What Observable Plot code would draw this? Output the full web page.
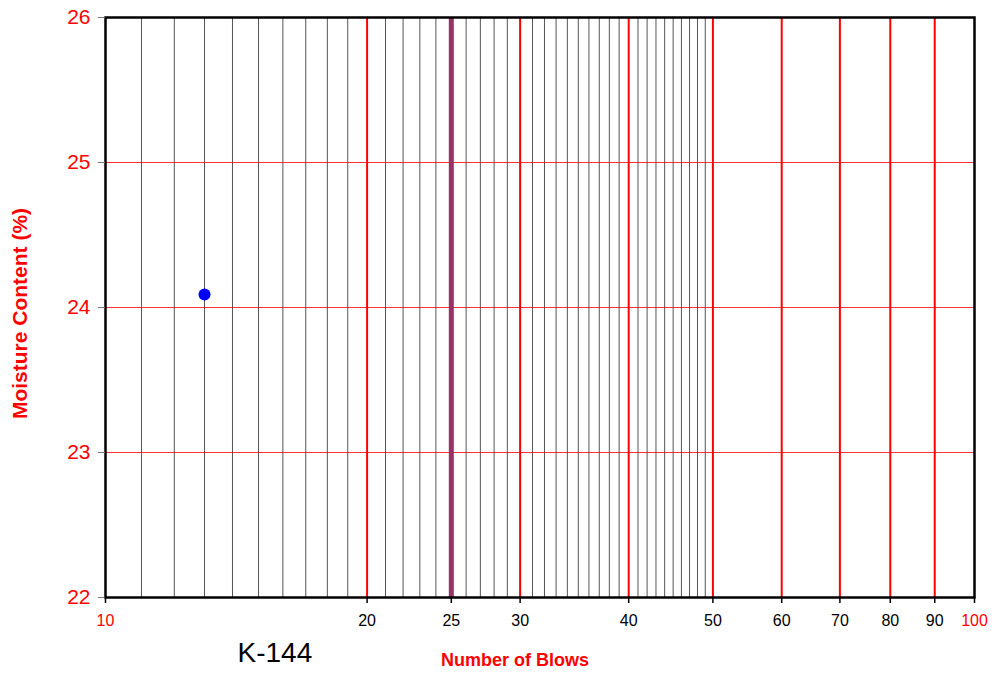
<!DOCTYPE html>
<html>
<head>
<meta charset="utf-8">
<script src="https://cdn.jsdelivr.net/npm/d3@7"></script>
<script src="https://cdn.jsdelivr.net/npm/@observablehq/plot@0.6"></script>
<style>
  html, body { margin: 0; padding: 0; background: #fff; }
  svg { display: block; font-family: "Liberation Sans", Arial, sans-serif; }
</style>
</head>
<body>
<div id="chart"></div>
<script>
// Liquid limit flow curve — sample K-144
const sampleId = "K-144";
const blows = [13];
const moisture = [24.09];

const xTicks = [10, 20, 25, 30, 40, 50, 60, 70, 80, 90, 100];
const xMajor = [20, 30, 40, 50, 60, 70, 80, 90];
const xHighlight = [25];
const xMinor = [11, 12, 13, 14, 15, 16, 17, 18, 19,
                21, 22, 23, 24, 26, 27, 28, 29,
                31, 32, 33, 34, 35, 36, 37, 38, 39,
                41, 42, 43, 44, 45, 46, 47, 48, 49];
const yTicks = [22, 23, 24, 25, 26];
const yGrid = [23, 24, 25];
const xTitle = "Number of Blows";
const yTitle = "Moisture Content (%)";

const points = blows.map((b, i) => ({blows: b, moisture: moisture[i]}));
const edgeTicks = [xTicks[0], xTicks[xTicks.length - 1]];

const chart = Plot.plot({
  width: 1004,
  height: 674,
  marginLeft: 105,
  marginRight: 30,
  marginTop: 17,
  marginBottom: 77,
  style: {fontFamily: "Liberation Sans, Arial, sans-serif", background: "#fff"},
  x: {type: "log", domain: [10, 100], label: null},
  y: {domain: [22, 26], label: null},
  marks: [
    Plot.ruleX(xMinor, {stroke: "#555", strokeWidth: 1}),
    Plot.ruleY(yGrid, {stroke: "#ff0000", strokeWidth: 1, strokeOpacity: 0.8}),
    Plot.ruleX(xMajor, {stroke: "#ff0000", strokeWidth: 2}),
    Plot.ruleX(xHighlight, {stroke: "#993366", strokeWidth: 5}),
    Plot.frame({stroke: "black", strokeWidth: 2.5}),
    // y ticks + labels
    Plot.axisY(yTicks, {tickSize: 7, stroke: "#777", tickFormat: () => "", label: null}),
    Plot.text(yTicks, {y: d => d, frameAnchor: "left", dx: -15, textAnchor: "end",
      fill: "#ff0000", fontSize: 21, text: d => String(d)}),
    // x ticks + labels
    Plot.axisX(xTicks, {tickSize: 6, stroke: "black", strokeWidth: 1.5, tickFormat: () => "", label: null}),
    Plot.text(xTicks, {x: d => d, frameAnchor: "bottom", dy: 28, fontSize: 16,
      fill: d => edgeTicks.includes(d) ? "#ff0000" : "black", text: d => String(d)}),
    // data point
    Plot.dot(points, {x: "blows", y: "moisture", r: 6, fill: "#0000ff", stroke: "none"}),
    // titles
    Plot.text([xTitle], {frameAnchor: "bottom", dx: -25, dy: 68, fontSize: 18,
      fontWeight: "bold", fill: "#ff0000"}),
    Plot.text([yTitle], {frameAnchor: "left", textAnchor: "middle", dx: -85, dy: 6, rotate: -90,
      fontSize: 21, fontWeight: "bold", fill: "#ff0000"}),
    Plot.text([sampleId], {frameAnchor: "bottom-left", dx: 132, dy: 64, textAnchor: "start",
      fontSize: 28, fill: "black"})
  ]
});
document.getElementById("chart").appendChild(chart);
</script>
</body>
</html>
